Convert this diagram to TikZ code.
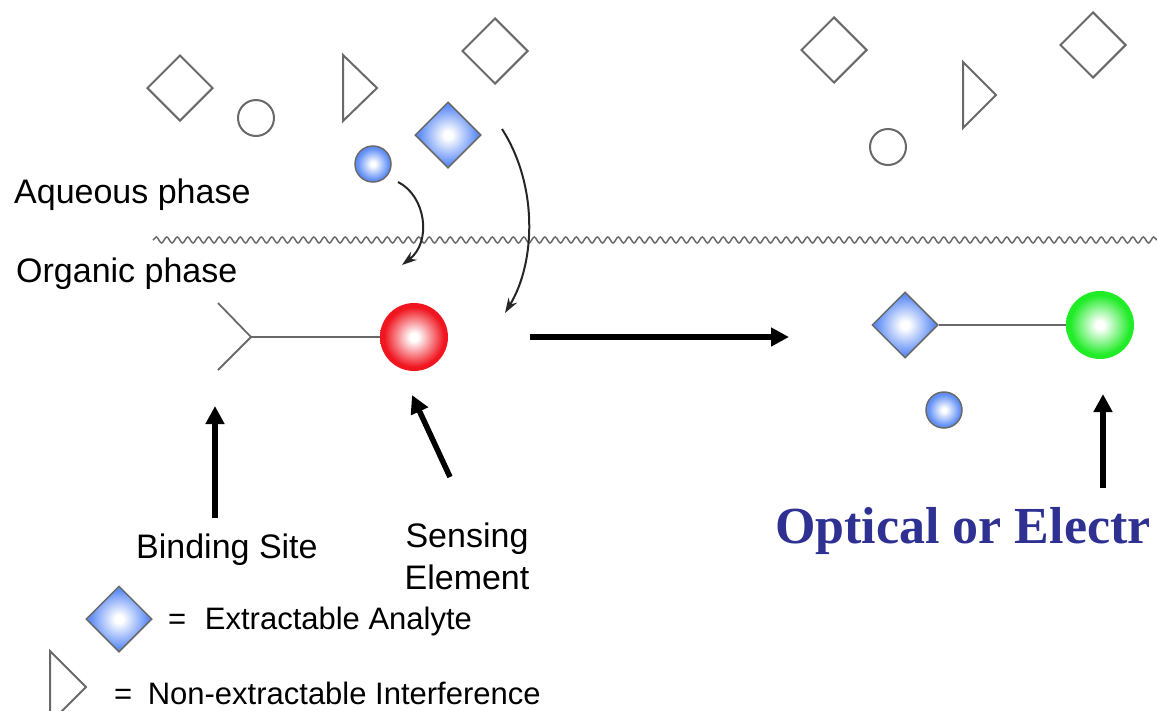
\documentclass[tikz,border=0pt]{standalone}
\usepackage{fontspec}
\newfontfamily\phasefont{Liberation Sans}
\newfontfamily\signalfont{Liberation Serif}
\usetikzlibrary{shapes.geometric,arrows.meta,decorations.pathmorphing}

\definecolor{analyteblue}{RGB}{96,142,246}
\definecolor{sensered}{RGB}{240,22,32}
\definecolor{signalgreen}{RGB}{32,236,40}
\definecolor{outlinegray}{RGB}{105,105,105}
\definecolor{signalblue}{RGB}{46,49,146}

\pgfdeclareradialshading{blueglow}{\pgfpoint{0bp}{0bp}}{color(0bp)=(white); color(3bp)=(white); color(22bp)=(analyteblue); color(50bp)=(analyteblue)}
\pgfdeclareradialshading{redglow}{\pgfpoint{0bp}{0bp}}{color(0bp)=(white); color(3bp)=(white); color(22bp)=(sensered); color(50bp)=(sensered)}
\pgfdeclareradialshading{greenglow}{\pgfpoint{0bp}{0bp}}{color(0bp)=(white); color(3bp)=(white); color(22bp)=(signalgreen); color(50bp)=(signalgreen)}

\tikzset{
  particle/.style={draw=outlinegray, line width=2pt, inner sep=0pt},
  opendiamond/.style={particle, diamond, minimum size=66pt},
  openring/.style={particle, circle, minimum size=36pt},
  analyte/.style={diamond, minimum size=66pt, inner sep=0pt, shade, shading=blueglow, draw=outlinegray, line width=1.5pt},
  bluebead/.style={circle, minimum size=36pt, inner sep=0pt, shade, shading=blueglow, draw=outlinegray, line width=1.5pt},
  ball/.style={circle, minimum size=68pt, inner sep=0pt, shade},
  bond/.style={outlinegray, line width=1.8pt},
  bigarrow/.style={line width=5.5pt, -{Triangle[length=18pt,width=18pt]}},
  bendarrow/.style={line width=2pt, black!85, -{Stealth[length=15pt,width=10pt]}},
  txt/.style={font=\phasefont\fontsize{34}{42}\selectfont, inner sep=0pt},
  keytxt/.style={font=\phasefont\fontsize{31}{38}\selectfont, inner sep=0pt, anchor=base west},
}

\begin{document}
\begin{tikzpicture}[x=1pt, y=-1pt]
    \useasboundingbox (0,0) rectangle (1157,710);
    \clip (0,0) rectangle (1157,710);
    % Interface between the two phases
    \coordinate (waveL) at (153,240);
    \coordinate (waveR) at (1160,240);
    \draw [outlinegray, line width=1.5pt, decorate, decoration={snake, segment length=10.5pt, amplitude=3pt}] (waveL) -- (waveR);
    \node [txt, anchor=base west] (aqueous) at (14,203) {Aqueous phase};
    \node [txt, anchor=base west] (organic) at (16,282) {Organic phase};
    % Species in the aqueous phase, before
    \node [opendiamond] (d1) at (180,88) {};
    \node [openring] (c1) at (256,118) {};
    \draw [particle] (343,55) -- (377,88) -- (343,121) -- cycle;
    \node [opendiamond] (d2) at (495,51) {};
    \node [analyte] (target) at (448,135) {};
    \node [bluebead] (bead) at (373,164) {};
    % Species in the aqueous phase, after
    \node [opendiamond] (d3) at (834,50) {};
    \node [openring] (c2) at (888,147) {};
    \draw [particle] (963,62) -- (996,95) -- (963,128) -- cycle;
    \node [opendiamond] (d4) at (1093,45) {};
    % Crossing into the organic phase
    \coordinate (beadout) at (398,182);
    \coordinate (beadin) at (402,265);
    \coordinate (targetout) at (502,129);
    \coordinate (targetin) at (505,313);
    \draw [bendarrow] (beadout) .. controls (426,196) and (432,242) .. (beadin);
    \draw [bendarrow] (targetout) .. controls (538,185) and (536,262) .. (targetin);
    % Ionophore: binding site and sensing element
    \node [ball, shading=redglow] (sensor) at (414,337) {};
    \coordinate (fork) at (251,337);
    \draw [bond] (218,303) -- (fork) -- (218,370);
    \draw [bond] (fork) -- (sensor.west);
    % Reaction arrow
    \coordinate (reactL) at (530,337);
    \coordinate (reactR) at (789,337);
    \draw [bigarrow] (reactL) -- (reactR);
    % Complex after extraction
    \node [analyte] (bound) at (905,325) {};
    \node [ball, shading=greenglow] (signal) at (1100,325) {};
    \draw [bond] (bound.east) -- (signal.west);
    \node [bluebead] (leftover) at (944,410) {};
    % Labels with arrows
    \node [txt, anchor=base west] (site) at (136,558) {Binding Site};
    \node [txt, anchor=base] (sensing) at (467,547) {Sensing};
    \node [txt, anchor=base] (element) at (467,589) {Element};
    \coordinate (siteA) at (215,518);
    \coordinate (siteB) at (215,406);
    \draw [bigarrow] (siteA) -- (siteB);
    \coordinate (sensA) at (450,477);
    \coordinate (sensB) at (412,395);
    \draw [bigarrow] (sensA) -- (sensB);
    \node [font=\signalfont\bfseries\fontsize{52}{60}\selectfont, text=signalblue, inner sep=0pt, anchor=base west] (readout) at (775,543) {Optical or Electr};
    \coordinate (readA) at (1103,488);
    \coordinate (readB) at (1103,394);
    \draw [bigarrow] (readA) -- (readB);
    % Legend
    \node [analyte] (keyA) at (119,619) {};
    \node [keytxt] (keyAtext) at (168,629) {=\hspace{0.6em}Extractable Analyte};
    \draw [particle] (50,651) -- (86,687) -- (50,723) -- cycle;
    \node [keytxt] (keyBtext) at (114,704) {=\hspace{0.5em}Non-extractable Interference};
\end{tikzpicture}
\end{document}
